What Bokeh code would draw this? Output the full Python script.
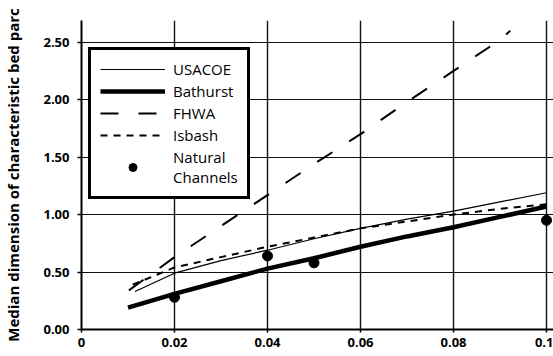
from bokeh.plotting import figure
from bokeh.models import Legend, LegendItem, FixedTicker, NumeralTickFormatter, Range1d
from bokeh.embed import file_html
from bokeh.resources import INLINE

# ---- data ----
usacoe_x = [0.0115, 0.02, 0.03, 0.04, 0.05, 0.06, 0.07, 0.08, 0.09, 0.1]
usacoe_y = [0.33, 0.49, 0.60, 0.69, 0.79, 0.88, 0.96, 1.03, 1.11, 1.19]

bathurst_x = [0.01, 0.02, 0.03, 0.04, 0.05, 0.06, 0.07, 0.08, 0.09, 0.1]
bathurst_y = [0.19, 0.31, 0.42, 0.53, 0.62, 0.72, 0.81, 0.89, 0.98, 1.07]

fhwa_x = [0.0102, 0.02, 0.03, 0.04, 0.05, 0.06, 0.07, 0.08, 0.09, 0.0922]
fhwa_y = [0.34, 0.63, 0.90, 1.17, 1.44, 1.70, 1.98, 2.25, 2.52, 2.60]

isbash_x = [0.011, 0.02, 0.03, 0.04, 0.05, 0.06, 0.07, 0.08, 0.09, 0.1]
isbash_y = [0.39, 0.54, 0.63, 0.72, 0.80, 0.88, 0.94, 1.00, 1.05, 1.09]

natural_x = [0.02, 0.04, 0.05, 0.1]
natural_y = [0.28, 0.64, 0.58, 0.95]

x_ticks = [0, 0.02, 0.04, 0.06, 0.08, 0.1]
y_ticks = [0, 0.5, 1.0, 1.5, 2.0, 2.5]
y_label = "Median dimension of characteristic bed parc"

FONT = "Open Sans"

p = figure(width=553, height=356, x_range=Range1d(0, 0.1015), y_range=Range1d(0, 2.689),
           output_backend="svg", toolbar_location=None,
           min_border_left=76, min_border_right=0, min_border_top=20, min_border_bottom=27)
p.outline_line_color = None
p.background_fill_color = "white"

# axes
p.xaxis.ticker = FixedTicker(ticks=x_ticks)
p.yaxis.ticker = FixedTicker(ticks=y_ticks)
p.xaxis.formatter = NumeralTickFormatter(format="0.[00]")
p.yaxis.formatter = NumeralTickFormatter(format="0.00")
for ax in (p.xaxis, p.yaxis):
    ax.axis_line_color = "black"
    ax.axis_line_width = 2
    ax.major_tick_line_color = "black"
    ax.major_tick_line_width = 1.5
    ax.minor_tick_line_color = None
    ax.major_label_text_font = FONT
    ax.major_label_text_font_style = "bold"
    ax.major_label_text_font_size = "13px"
    ax.major_label_text_color = "black"
p.yaxis.major_tick_out = 4
p.yaxis.major_tick_in = 0
p.yaxis.major_label_standoff = 8
p.xaxis.major_tick_out = 3
p.xaxis.major_tick_in = 0
p.xaxis.major_label_standoff = 5

p.yaxis.axis_label = y_label
p.yaxis.axis_label_text_font = FONT
p.yaxis.axis_label_text_font_style = "bold"
p.yaxis.axis_label_text_font_size = "15px"
p.yaxis.axis_label_text_color = "black"
p.yaxis.axis_label_standoff = 17

# grid
p.xgrid.grid_line_color = "#111111"
p.xgrid.grid_line_width = 1.4
p.ygrid.grid_line_color = "#111111"
p.ygrid.grid_line_width = 1.1

# series
r_us = p.line(usacoe_x, usacoe_y, line_color="black", line_width=1.2)
r_ba = p.line(bathurst_x, bathurst_y, line_color="black", line_width=4.5)
r_fh = p.line(fhwa_x, fhwa_y, line_color="black", line_width=2, line_dash="18 20")
r_is = p.line(isbash_x, isbash_y, line_color="black", line_width=2, line_dash="7 6")
r_nc = p.scatter(natural_x, natural_y, size=10, color="black")

legend = Legend(items=[
    LegendItem(label="USACOE", renderers=[r_us]),
    LegendItem(label="Bathurst", renderers=[r_ba]),
    LegendItem(label="FHWA", renderers=[r_fh]),
    LegendItem(label="Isbash", renderers=[r_is]),
    LegendItem(label="Natural\nChannels", renderers=[r_nc]),
], location=(7, 130))
legend.border_line_color = "black"
legend.border_line_width = 3
legend.border_line_alpha = 1
legend.background_fill_color = "white"
legend.background_fill_alpha = 1
legend.glyph_width = 65
legend.glyph_height = 20
legend.label_height = 20
legend.spacing = 2
legend.padding = 9
legend.margin = 0
legend.label_standoff = 8
legend.label_text_font = FONT
legend.label_text_font_size = "15px"
legend.label_text_color = "black"
p.add_layout(legend)

open("out.html", "w").write(file_html(p, INLINE))
